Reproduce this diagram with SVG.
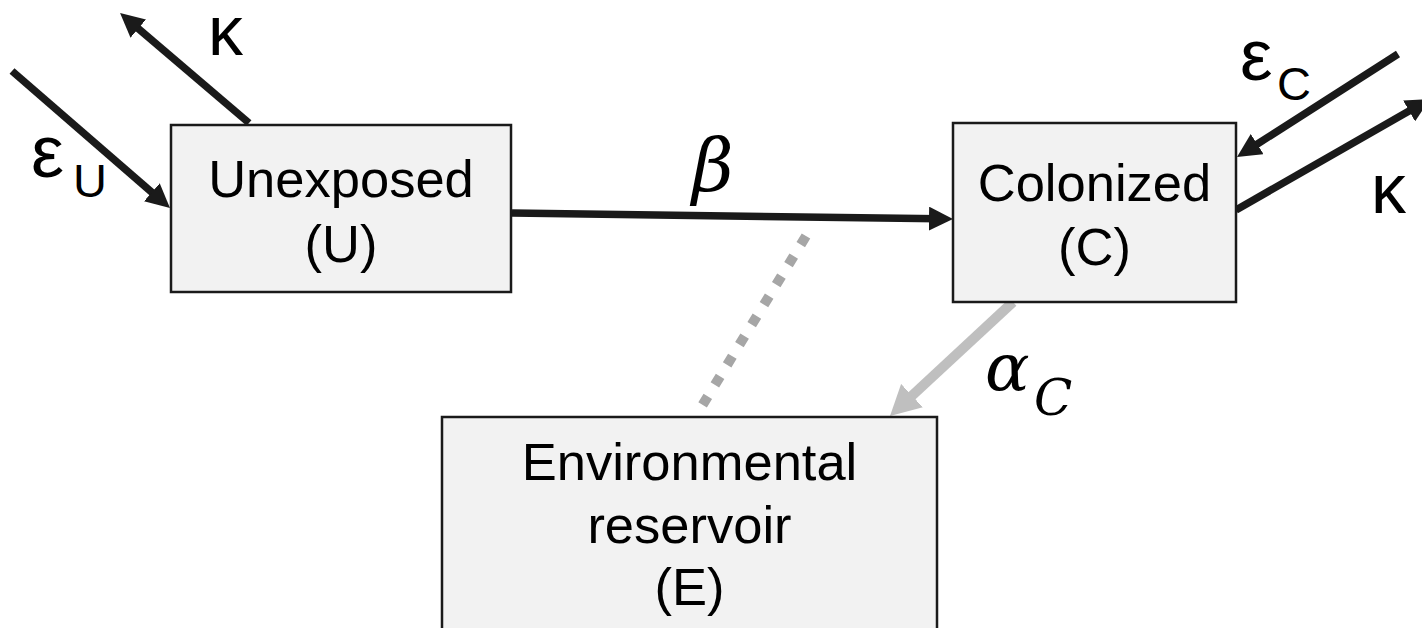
<svg xmlns="http://www.w3.org/2000/svg" width="1422" height="628" viewBox="0 0 1422 628">
<style>
.box{fill:#f2f2f2;stroke:#1a1a1a;stroke-width:2.5}
.nt{font-family:"Liberation Sans",Arial,sans-serif;font-size:52.5px;fill:#000;text-anchor:middle}
.sym{font-family:"Liberation Sans",Arial,sans-serif;fill:#000}
.math{font-family:"DejaVu Serif","Liberation Serif",serif;font-style:italic;fill:#000}
.blk{stroke:#1a1a1a;stroke-width:7.5;fill:none;marker-end:url(#hb)}
.gry{stroke:#bfbfbf;stroke-width:10;fill:none;marker-end:url(#hg)}
</style>
<defs>
<marker id="hb" markerUnits="userSpaceOnUse" viewBox="0 0 24 24" markerWidth="24" markerHeight="24" refX="10" refY="12" orient="auto">
<path d="M0,0 L24,12 L0,24 z" fill="#1a1a1a"/>
</marker>
<marker id="hg" markerUnits="userSpaceOnUse" viewBox="0 0 30 32" markerWidth="30" markerHeight="32" refX="12" refY="16" orient="auto">
<path d="M0,0 L30,16 L0,32 z" fill="#bfbfbf"/>
</marker>
</defs>
<g id="connectors">
<line x1="806" y1="236" x2="697" y2="414" stroke="#a6a6a6" stroke-width="10" stroke-dasharray="10 13.5"/>
<path class="blk" d="M512,213 L939,218.8"/>
<path class="blk" d="M12,71 L159.4,198.8"/>
<path class="blk" d="M249,123 L130.7,22.1"/>
<path class="blk" d="M1398,54 L1248.8,149.5"/>
<path class="blk" d="M1236,210 L1417.8,106"/>
<path class="gry" d="M1013,302 L903.2,403.8"/>
</g>
<g id="labels">
<text class="math" x="692" y="191" font-size="72">β</text>
<text class="sym" x="31" y="177" font-size="74">ε</text>
<text class="sym" x="73" y="197" font-size="47">U</text>
<text class="sym" x="208" y="55" font-size="70">κ</text>
<text class="sym" x="1240" y="80" font-size="73">ε</text>
<text class="sym" x="1277" y="100" font-size="47">C</text>
<text class="sym" x="1371" y="213" font-size="70">κ</text>
<text class="math" x="985" y="390" font-size="66">α</text>
<text class="math" x="1034" y="415" font-size="50">C</text>
</g>
<g id="node-U">
<rect class="box" x="171" y="125" width="340" height="167"/>
<text class="nt" x="341" y="197">Unexposed</text>
<text class="nt" x="341" y="262">(U)</text>
</g>
<g id="node-C">
<rect class="box" x="953" y="123" width="283" height="179"/>
<text class="nt" x="1094.5" y="201">Colonized</text>
<text class="nt" x="1094.5" y="265">(C)</text>
</g>
<g id="node-E">
<rect class="box" x="442" y="417" width="495" height="240"/>
<text class="nt" x="689.5" y="480" font-size="51">Environmental</text>
<text class="nt" x="689.5" y="543" font-size="51">reservoir</text>
<text class="nt" x="689.5" y="605" font-size="51">(E)</text>
</g>
</svg>
